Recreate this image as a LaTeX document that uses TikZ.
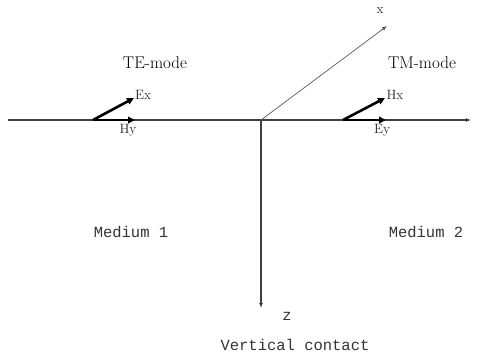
\documentclass[tikz,border=0pt]{standalone}
\usepackage{fontspec}
\newfontfamily\cour{Liberation Mono}
\usetikzlibrary{arrows.meta}
\begin{document}
\begin{tikzpicture}[x=1pt,y=-1pt,
  axis/.style={line width=1.1pt,draw=black!75,-{Latex[length=5pt,width=4pt]}},
  thinaxis/.style={line width=0.7pt,draw=black!65,-{Latex[length=5pt,width=4pt]}},
  fieldvec/.style={line width=2.6pt,-{Triangle[length=7pt,width=6.5pt]}},
  mode/.style={font=\fontsize{17}{20}\selectfont,inner sep=0pt},
  comp/.style={font=\fontsize{13.5}{16}\selectfont,inner sep=0pt,text=black!85},
  medium/.style={font=\cour\fontsize{15.5}{18}\selectfont,inner sep=0pt,text=black!80}]
\useasboundingbox (0,0) rectangle (482,354);
\coordinate (O) at (261,120);
\coordinate (L) at (8,120);
\coordinate (R) at (471,120);
\coordinate (X) at (387,26);
\coordinate (Z) at (261,308);
\draw[axis] (L) -- (R);
\draw[thinaxis] (O) -- (X);
\draw[axis] (O) -- (Z);
% TE
\coordinate (te0) at (93,120);
\coordinate (teE) at (134,98);
\coordinate (teH) at (135,120);
\draw[fieldvec] (te0) -- (teE);
\draw[fieldvec] (te0) -- (teH);
% TM
\coordinate (tm0) at (343,120);
\coordinate (tmH) at (385,98);
\coordinate (tmE) at (386,120);
\draw[fieldvec] (tm0) -- (tmH);
\draw[fieldvec] (tm0) -- (tmE);
\node[comp] (lEx) at (143,95) {Ex};
\node[comp] (lHy) at (128,130) {Hy};
\node[comp] (lHx) at (395,95) {Hx};
\node[comp] (lEy) at (382,130) {Ey};
\node[mode] (te) at (155,63) {TE-mode};
\node[mode] (tm) at (422,63) {TM-mode};
\node[comp] (lx) at (380,11) {x};
\node[medium] (m1) at (131,232) {Medium 1};
\node[medium] (m2) at (426,232) {Medium 2};
\node[medium] (lz) at (287,316) {z};
\node[medium] (vc) at (295,345) {Vertical contact};
\end{tikzpicture}
\end{document}
